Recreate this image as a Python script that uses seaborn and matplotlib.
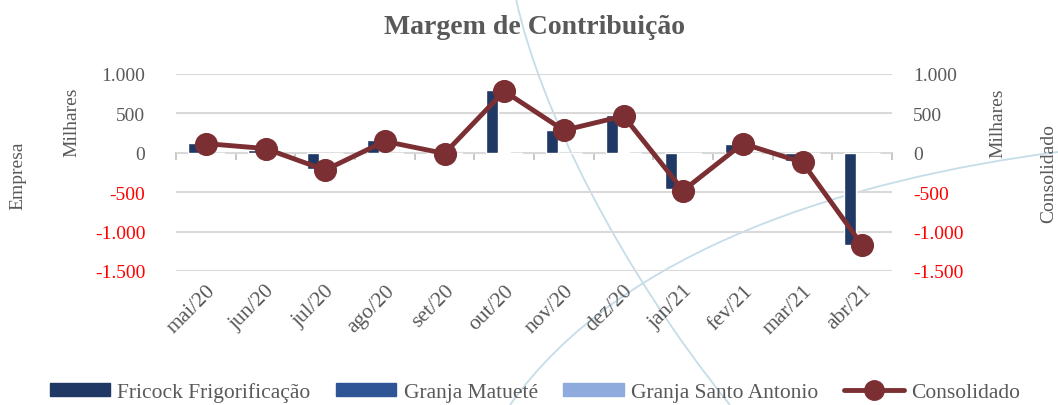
import numpy as np
import pandas as pd
import matplotlib
matplotlib.use("Agg")
import matplotlib.pyplot as plt
import seaborn as sns
from matplotlib.patches import Patch, PathPatch
from matplotlib.lines import Line2D
from matplotlib.path import Path

# ---------------- data (Milhares) ----------------
meses = ["mai/20", "jun/20", "jul/20", "ago/20", "set/20", "out/20",
         "nov/20", "dez/20", "jan/21", "fev/21", "mar/21", "abr/21"]
fricock = [130, 40, -210, 159, 5, 798, 285, 483, -463, 116, -110, -1165]
matuete = [5, 3, -4, 3, 2, 4, 3, 4, -3, 3, -5, -4]
santo_antonio = [-12, 8, -8, -10, -12, -15, -5, -18, -12, -4, -8, -6]
consolidado = [117, 54, -219, 146, -9, 782, 285, 467, -479, 117, -122, -1173]
series_names = ["Fricock Frigorificação", "Granja Matueté", "Granja Santo Antonio"]
y_ticks = [-1500, -1000, -500, 0, 500, 1000]

# ---------------- style ----------------
sns.set_theme(style="white")
plt.rcParams['font.family'] = ['Liberation Serif', 'DejaVu Serif']
GRAY = "#595959"
RED = "#FF0000"
colors = ["#1F3864", "#2F5597", "#8FAADC"]
LINE_C = "#7B2F33"
W, H = 1058, 406

df = pd.DataFrame({
    "mes": meses * 3,
    "empresa": sum([[n] * len(meses) for n in series_names], []),
    "valor": fricock + matuete + santo_antonio,
})
df_cons = pd.DataFrame({"mes": meses, "valor": consolidado})

fig = plt.figure(figsize=(10.58, 4.06), dpi=100)

# decorative background arcs (slide template)
def arc(p):
    verts = [(x / W, 1 - y / H) for x, y in p]
    path = Path(verts, [Path.MOVETO, Path.CURVE4, Path.CURVE4, Path.CURVE4])
    fig.add_artist(PathPatch(path, transform=fig.transFigure, fill=False,
                             edgecolor="#C5DDE8", lw=1.3, zorder=-5))
arc([(516, 0), (540, 110), (620, 270), (730, 406)])
arc([(510, 406), (620, 250), (850, 180), (1058, 153)])

ax = fig.add_axes([176 / W, 1 - 272 / H, 716 / W, 197 / H])
ax.patch.set_alpha(0)

sns.barplot(data=df, x="mes", y="valor", hue="empresa", order=meses,
            hue_order=series_names, palette=colors, width=0.6,
            saturation=1, ax=ax, legend=False, zorder=3)

ax.set_ylim(-1500, 1000)
ax.set_xlim(-0.5, len(meses) - 0.5)
ax.set_yticks(y_ticks)
fmt = lambda v: f"{v:,.0f}".replace(",", ".")
ax.set_yticklabels([fmt(v) for v in y_ticks], fontsize=14)
for lab, v in zip(ax.get_yticklabels(), y_ticks):
    lab.set_color(RED if v < 0 else GRAY)
ax.yaxis.grid(True, color="#D9D9D9", linewidth=1.5, zorder=0)
ax.set_axisbelow(True)
for s in ax.spines.values():
    s.set_visible(False)
ax.tick_params(axis="y", length=0, pad=22)
ax.tick_params(axis="x", length=0, pad=7)
ax.set_xticks(range(len(meses)))
ax.set_xticklabels(meses, rotation=45, ha="right", rotation_mode="anchor",
                   fontsize=15.5, color=GRAY)
ax.set_xlabel("")
ax.set_ylabel("")

# zero line with category boundary ticks
sec = ax.secondary_xaxis(0.6)
sec.set_alignment("bottom")
sec.set_xticks(np.arange(-0.5, len(meses), 1.0))
sec.tick_params(axis="x", direction="out", length=5, color="#BFBFBF",
                labelbottom=False, labeltop=False, width=1.2)
sec.spines["bottom"].set_color("#BFBFBF")
sec.spines["bottom"].set_linewidth(1.2)

# secondary axis: Consolidado
ax2 = ax.twinx()
ax2.patch.set_alpha(0)
sns.pointplot(data=df_cons, x="mes", y="valor", order=meses, color=LINE_C,
              markers="o", markersize=14, linewidth=3.5, ax=ax2)
ax2.set_ylim(-1500, 1000)
ax2.set_xlim(-0.5, len(meses) - 0.5)
ax2.set_yticks(y_ticks)
ax2.set_yticklabels([fmt(v) for v in y_ticks], fontsize=14)
for lab, v in zip(ax2.get_yticklabels(), y_ticks):
    lab.set_color(RED if v < 0 else GRAY)
ax2.tick_params(axis="y", length=0, pad=15)
for s in ax2.spines.values():
    s.set_visible(False)
ax2.set_xlabel("")
ax2.set_ylabel("")

# titles
fig.text(534 / W, 1 - 27 / H, "Margem de Contribuição", ha="center", va="center",
         fontsize=20, fontweight="bold", color=GRAY)
fig.text(18 / W, 1 - 176 / H, "Empresa", rotation=90, ha="center", va="center",
         fontsize=14, color=GRAY)
fig.text(72 / W, 1 - 122 / H, "Milhares", rotation=90, ha="center", va="center",
         fontsize=14, color=GRAY)
fig.text(998 / W, 1 - 123 / H, "Milhares", rotation=90, ha="center", va="center",
         fontsize=14, color=GRAY)
fig.text(1049 / W, 1 - 174 / H, "Consolidado", rotation=90, ha="center", va="center",
         fontsize=14, color=GRAY)

# legend
handles = [Patch(facecolor=c, edgecolor=c) for c in colors]
handles.append(Line2D([0], [0], color=LINE_C, lw=3.5, marker="o", markersize=14))
leg = fig.legend(handles, series_names + ["Consolidado"], loc="center",
                 bbox_to_anchor=(535 / W, 1 - 393 / H), ncol=4, frameon=False,
                 fontsize=15.5, handlelength=2.8, handleheight=0.55,
                 columnspacing=1.2, handletextpad=0.33)
for t in leg.get_texts():
    t.set_color(GRAY)

fig.savefig("out.png", dpi=100)
